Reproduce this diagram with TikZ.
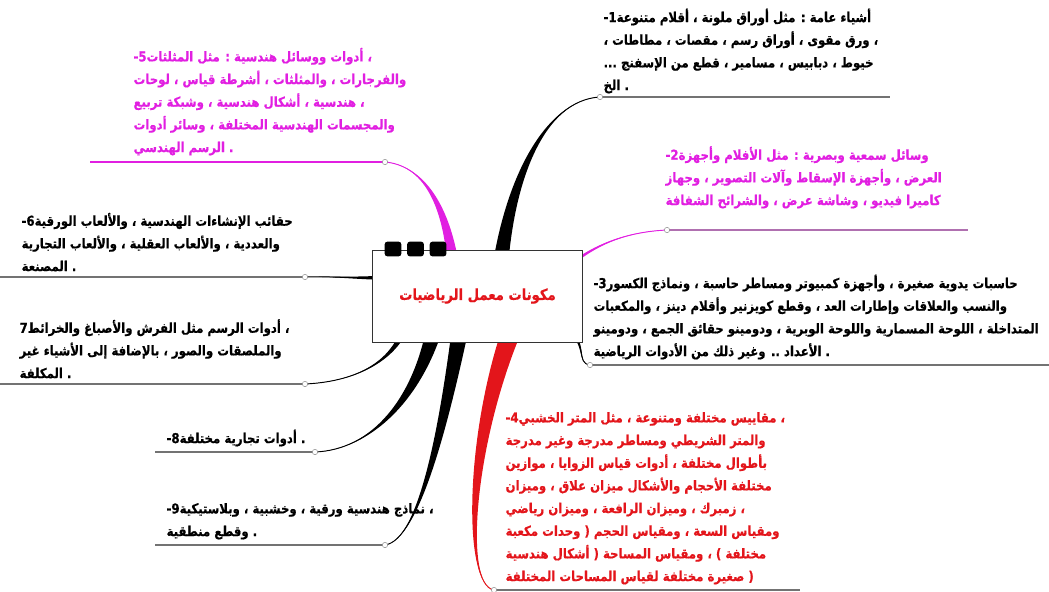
\documentclass[tikz,border=0pt]{standalone}
\usepackage{fontspec}
\usepackage{xcolor}
\usetikzlibrary{positioning,calc}
\TeXXeTstate=1
\newfontfamily\arabicfont[Script=Arabic, FakeStretch=0.86,
  BoldFeatures={FakeBold=0.6}]{DejaVu Sans}
\definecolor{mapred}{HTML}{E3151B}
\definecolor{mapmag}{HTML}{E11FE1}
\newcommand\ar[1]{\beginR #1\endR}
% tapered branch: colour, start, half width, control a, control b, end
\newcommand\branchfill[6]{%
  \fill[#1] ($(#2)+(#3)$) .. controls ($(#4)+0.5*(#3)$) and (#5) .. (#6)
    .. controls (#5) and ($(#4)-0.5*(#3)$) .. ($(#2)-(#3)$) -- cycle;
  \draw[#1, line width=0.7pt] (#2) .. controls (#4) and (#5) .. (#6);}
\pgfdeclarelayer{bg}
\pgfsetlayers{bg,main}

\begin{document}
\begin{tikzpicture}[x=0.75pt, y=-0.75pt,
  topic/.style={font=\arabicfont\bfseries\fontsize{10.2}{17}\selectfont,
                align=left, inner sep=1pt, anchor=south west},
  hubbox/.style={draw=black!80, fill=white, line width=0.6pt,
                 minimum width=158pt, minimum height=69pt, text=mapred,
                 font=\arabicfont\bfseries\fontsize{11.5}{13}\selectfont},
  tab/.style={fill=black, rounded corners=2pt, minimum width=12.5pt,
              minimum height=11pt, inner sep=0pt},
  knob/.style={circle, draw=black!45, fill=white, inner sep=0pt,
               minimum size=4pt, line width=0.4pt},
  rule/.style={draw=black!55, line width=1.3pt}]
\useasboundingbox (0,0) rectangle (1049,592);

\node[hubbox] (hub) at (477.5,296) {\ar{مكونات معمل الرياضيات}};
\node[tab] (d1) at (393,249) {};
\node[tab, right=4pt of d1] (d2) {};
\node[tab, right=4pt of d2] (d3) {};

\coordinate (k1) at (600,97);
\coordinate (k2) at (667,230);
\coordinate (k3) at (590,365);
\coordinate (k4) at (494,590);
\coordinate (k5) at (385,162);
\coordinate (k6) at (305,277);
\coordinate (k7) at (305,384);
\coordinate (k8) at (315,452);
\coordinate (k9) at (385,545);

\begin{pgfonlayer}{bg}
\branchfill{black}{$(hub.center)+(20,0)$}{9,0}{505,180}{545,100}{k1}
\branchfill{mapmag}{$(hub.center)+(80,-20)$}{1.5,1.5}{590,245}{625,232}{k2}
\branchfill{black}{$(hub.center)+(85,25)$}{2,-1}{590,345}{575,363}{k3}
\branchfill{mapred}{$(hub.center)+(40,20)$}{11,0}{470,430}{462,585}{k4}
\branchfill{mapmag}{$(hub.center)+(-22,0)$}{7,0}{452,200}{420,165}{k5}
\branchfill{black}{$(hub.center)+(-60,-20)$}{0,3.5}{370,280}{340,276}{k6}
\branchfill{black}{$(hub.center)+(-70,25)$}{4,0}{395,365}{350,382}{k7}
\branchfill{black}{$(hub.center)+(-40,20)$}{9,0}{420,400}{370,450}{k8}
\branchfill{black}{$(hub.center)+(-15,20)$}{9,0}{445,420}{420,540}{k9}
\end{pgfonlayer}

\node[topic] (t1) at (602,95) {1-\ar{أشياء عامة : مثل أوراق ملونة ، أقلام متنوعة}\\
  \ar{، ورق مقوى ، أوراق رسم ، مقصات ، مطاطات ،}\\
  \ar{خيوط ، دبابيس ، مسامير ، قطع من الإسفنج ...}\\
  \ar{الخ} .};
\node[topic, text=mapmag] (t2) at (664,210) {2-\ar{وسائل سمعية وبصرية : مثل الأفلام وأجهزة}\\
  \ar{العرض ، وأجهزة الإسقاط وآلات التصوير ، وجهاز}\\
  \ar{كاميرا فيديو ، وشاشة عرض ، والشرائح الشفافة}};
\node[topic] (t3) at (592,361) {3-\ar{حاسبات يدوية صغيرة ، وأجهزة كمبيوتر ومساطر حاسبة ، ونماذج الكسور}\\
  \ar{والنسب والعلاقات وإطارات العد ، وقطع كويزنير وأقلام دينز ، والمكعبات}\\
  \ar{المتداخلة ، اللوحة المسمارية واللوحة الوبرية ، ودومينو حقائق الجمع ، ودومينو}\\
  \ar{الأعداد .. وغير ذلك من الأدوات الرياضية} .};
\node[topic, text=mapred] (t4) at (504,586) {4-\ar{، مقاييس مختلفة ومتنوعة ، مثل المتر الخشبي}\\
  \ar{والمتر الشريطي ومساطر مدرجة وغير مدرجة}\\
  \ar{بأطوال مختلفة ، أدوات قياس الزوايا ، موازين}\\
  \ar{مختلفة الأحجام والأشكال ميزان علاق ، وميزان}\\
  \ar{، زمبرك ، وميزان الرافعة ، وميزان رياضي}\\
  \ar{ومقياس السعة ، ومقياس الحجم ( وحدات مكعبة}\\
  \ar{مختلفة ) ، ومقياس المساحة ( أشكال هندسية}\\
  \ar{( صغيرة مختلفة لقياس المساحات المختلفة}};
\node[topic, text=mapmag] (t5) at (132,157) {5-\ar{، أدوات ووسائل هندسية : مثل المثلثات}\\
  \ar{والفرجارات ، والمثلثات ، أشرطة قياس ، لوحات}\\
  \ar{، هندسية ، أشكال هندسية ، وشبكة تربيع}\\
  \ar{والمجسمات الهندسية المختلفة ، وسائر أدوات}\\
  \ar{الرسم الهندسي} .};
\node[topic] (t6) at (20,273) {6-\ar{حقائب الإنشاءات الهندسية ، والألعاب الورقية}\\
  \ar{والعددية ، والألعاب العقلية ، والألعاب التجارية}\\
  \ar{المصنعة} .};
\node[topic] (t7) at (18,380) {7\ar{، أدوات الرسم مثل الفرش والأصباغ والخرائط}\\
  \ar{والملصقات والصور ، بالإضافة إلى الأشياء غير}\\
  \ar{المكلفة} .};
\node[topic] (t8) at (165,448) {8-\ar{أدوات تجارية مختلفة} .};
\node[topic] (t9) at (165,541) {9-\ar{، نماذج هندسية ورقية ، وخشبية ، وبلاستيكية}\\
  \ar{وقطع منطقية} .};

\draw[rule] (k1) -- ($(k1 -| t1.east)+(10,0)$);
\draw[rule, draw=mapmag!55!black!60] (k2) -- ($(k2 -| t2.east)+(25,0)$);
\draw[rule] (k3) -- (k3 -| 1049,0);
\draw[rule] (k4) -- ($(k4 -| t4.east)+(13,0)$);
\draw[rule, draw=mapmag] (k5) -- ($(k5 -| t5.west)+(-42,0)$);
\draw[rule] (k6) -- (k6 -| 0,0);
\draw[rule] (k7) -- (k7 -| 0,0);
\draw[rule] (k8) -- ($(k8 -| t8.west)+(-10,0)$);
\draw[rule] (k9) -- ($(k9 -| t9.west)+(-10,0)$);

\foreach \k in {k1,k2,k3,k4,k5,k6,k7,k8,k9}
  \node[knob] at (\k) {};
\end{tikzpicture}
\end{document}
